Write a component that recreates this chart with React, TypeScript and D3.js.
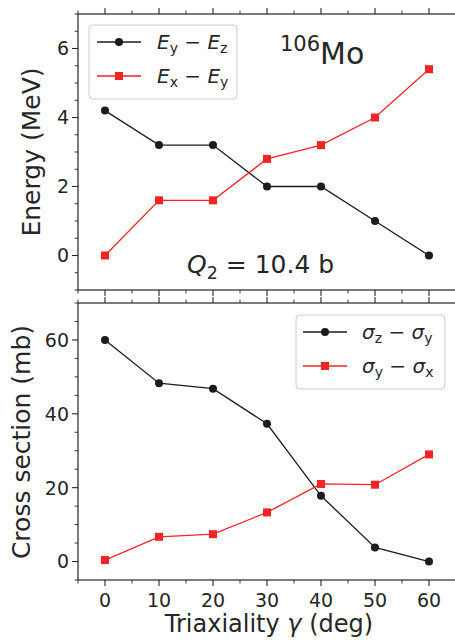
import React from "react";
import * as d3 from "d3";

const gamma = [0, 10, 20, 30, 40, 50, 60];
const eYZ = [4.2, 3.2, 3.2, 2.0, 2.0, 1.0, 0.0];
const eXY = [0.0, 1.6, 1.6, 2.8, 3.2, 4.0, 5.4];
const sZY = [60.0, 48.3, 46.8, 37.3, 17.8, 3.8, 0.0];
const sYX = [0.4, 6.7, 7.4, 13.3, 21.0, 20.8, 29.0];

const xTicks = [0, 10, 20, 30, 40, 50, 60];
const yTopTicks = [0, 2, 4, 6];
const yBotTicks = [0, 20, 40, 60];

const FONT = "DejaVu Sans";
const TXT = "#262626";
const BLACK = "#1c1c1c";
const RED = "#f42424";

type Seg = { t: string; it?: boolean; sub?: boolean; sup?: boolean; size?: number };

function MathText({ x, y, segs, size, anchor = "start" }: { x: number; y: number; segs: Seg[]; size: number; anchor?: string }) {
  const out: React.ReactNode[] = [];
  let shift = 0;
  segs.forEach((s, i) => {
    let target = 0;
    if (s.sub) target = size * 0.22;
    if (s.sup) target = -size * 0.42;
    const dy = target - shift;
    shift = target;
    out.push(
      <tspan key={i} dy={dy} fontStyle={s.it ? "italic" : "normal"} fontSize={s.sub || s.sup ? size * 0.7 : s.size || size}>
        {s.t}
      </tspan>
    );
  });
  return (
    <text x={x} y={y} fontFamily={FONT} fontSize={size} fill={TXT} textAnchor={anchor as any} xmlSpace="preserve">
      {out}
    </text>
  );
}

const x = d3.scaleLinear().domain([-5, 65]).range([78, 456]);
const yTop = d3.scaleLinear().domain([-1, 7]).range([290, 14]);
const yBot = d3.scaleLinear().domain([-5, 70]).range([580, 303]);

function Panel({ y, yTicks, minorStep, series, showXLabels }: any) {
  const [y0, y1] = y.range();
  const xMinor = d3.range(-5, 66, 5).filter((v: number) => v % 10 !== 0);
  const [d0, d1] = y.domain();
  const yMinor = d3
    .range(Math.ceil(d0 / minorStep) * minorStep, d1 + 1e-9, minorStep)
    .filter((v: number) => !yTicks.some((t: number) => Math.abs(t - v) < 1e-9));
  const left = x.range()[0];
  const right = x.range()[1];
  return (
    <g>
      {series.map((s: any, k: number) => {
        const line = d3
          .line<number>()
          .x((_, i) => x(gamma[i]))
          .y((v) => y(v));
        return (
          <g key={k}>
            <path d={line(s.values) || ""} fill="none" stroke={s.color} strokeWidth={1.3} />
            {s.values.map((v: number, i: number) =>
              s.marker === "circle" ? (
                <circle key={i} cx={x(gamma[i])} cy={y(v)} r={4} fill={s.color} />
              ) : (
                <rect key={i} x={x(gamma[i]) - 4} y={y(v) - 4} width={8} height={8} fill={s.color} />
              )
            )}
          </g>
        );
      })}
      <rect x={left} y={y1} width={right - left} height={y0 - y1} fill="none" stroke={TXT} strokeWidth={1.2} />
      {xTicks.map((t) => (
        <g key={"xt" + t}>
          <line x1={x(t)} x2={x(t)} y1={y0} y2={y0 + 6} stroke={TXT} strokeWidth={1.1} />
          <line x1={x(t)} x2={x(t)} y1={y1} y2={y1 - 6} stroke={TXT} strokeWidth={1.1} />
          {showXLabels && (
            <text x={x(t)} y={607} textAnchor="middle" fontFamily={FONT} fontSize={19} fill={TXT}>
              {t}
            </text>
          )}
        </g>
      ))}
      {xMinor.map((t: number) => (
        <g key={"xm" + t}>
          <line x1={x(t)} x2={x(t)} y1={y0} y2={y0 + 3.5} stroke={TXT} strokeWidth={0.9} />
          <line x1={x(t)} x2={x(t)} y1={y1} y2={y1 - 3.5} stroke={TXT} strokeWidth={0.9} />
        </g>
      ))}
      {yTicks.map((t: number) => (
        <g key={"yt" + t}>
          <line x1={left} x2={left - 6} y1={y(t)} y2={y(t)} stroke={TXT} strokeWidth={1.1} />
          <text x={69} y={y(t)} dy="0.36em" textAnchor="end" fontFamily={FONT} fontSize={19} fill={TXT}>
            {t}
          </text>
        </g>
      ))}
      {yMinor.map((t: number) => (
        <line key={"ym" + t} x1={left} x2={left - 3.5} y1={y(t)} y2={y(t)} stroke={TXT} strokeWidth={0.9} />
      ))}
    </g>
  );
}

function LegendBox({ x0, y0, w, h, rows }: any) {
  return (
    <g>
      <rect x={x0} y={y0} width={w} height={h} rx={4} fill="white" fillOpacity={0.85} stroke="#cccccc" strokeWidth={1} />
      {rows.map((r: any, i: number) => (
        <g key={i}>
          <line x1={r.lx} x2={r.lx + 44} y1={r.y} y2={r.y} stroke={r.color} strokeWidth={1.3} />
          {r.marker === "circle" ? (
            <circle cx={r.lx + 22} cy={r.y} r={4} fill={r.color} />
          ) : (
            <rect x={r.lx + 18} y={r.y - 4} width={8} height={8} fill={r.color} />
          )}
          <MathText x={r.tx} y={r.y + 7} segs={r.segs} size={20} />
        </g>
      ))}
    </g>
  );
}

export default function App() {
  return (
    <svg width={455} height={641} style={{ position: "absolute", left: 0, top: 0, background: "white" }}>
      <rect width={455} height={641} fill="white" />
      <Panel
        y={yTop}
        yTicks={yTopTicks}
        minorStep={0.5}
        showXLabels={false}
        series={[
          { values: eYZ, color: BLACK, marker: "circle" },
          { values: eXY, color: RED, marker: "square" },
        ]}
      />
      <Panel
        y={yBot}
        yTicks={yBotTicks}
        minorStep={5}
        showXLabels={true}
        series={[
          { values: sZY, color: BLACK, marker: "circle" },
          { values: sYX, color: RED, marker: "square" },
        ]}
      />
      <LegendBox
        x0={89}
        y0={25}
        w={148}
        h={74}
        rows={[
          { lx: 97, tx: 157, y: 42, color: BLACK, marker: "circle", segs: [{ t: "E", it: true }, { t: "y", sub: true }, { t: " − " }, { t: "E", it: true }, { t: "z", sub: true }] },
          { lx: 97, tx: 157, y: 76, color: RED, marker: "square", segs: [{ t: "E", it: true }, { t: "x", sub: true }, { t: " − " }, { t: "E", it: true }, { t: "y", sub: true }] },
        ]}
      />
      <LegendBox
        x0={296}
        y0={315}
        w={149}
        h={74}
        rows={[
          { lx: 303, tx: 362, y: 332, color: BLACK, marker: "circle", segs: [{ t: "σ", it: true }, { t: "z", sub: true }, { t: " − " }, { t: "σ", it: true }, { t: "y", sub: true }] },
          { lx: 303, tx: 362, y: 366, color: RED, marker: "square", segs: [{ t: "σ", it: true }, { t: "y", sub: true }, { t: " − " }, { t: "σ", it: true }, { t: "x", sub: true }] },
        ]}
      />
      <MathText x={280} y={64} size={30} segs={[{ t: "106", sup: true }, { t: "Mo" }]} />
      <MathText x={187} y={273} size={25} segs={[{ t: "Q", it: true }, { t: "2", sub: true }, { t: " = 10.4 b" }]} />
      <text transform="translate(40,152) rotate(-90)" textAnchor="middle" fontFamily={FONT} fontSize={25} fill={TXT}>
        Energy (MeV)
      </text>
      <text transform="translate(30,442) rotate(-90)" textAnchor="middle" fontFamily={FONT} fontSize={25} fill={TXT}>
        Cross section (mb)
      </text>
      <MathText x={269} y={632} size={24} anchor="middle" segs={[{ t: "Triaxiality " }, { t: "γ", it: true }, { t: " (deg)" }]} />
    </svg>
  );
}
